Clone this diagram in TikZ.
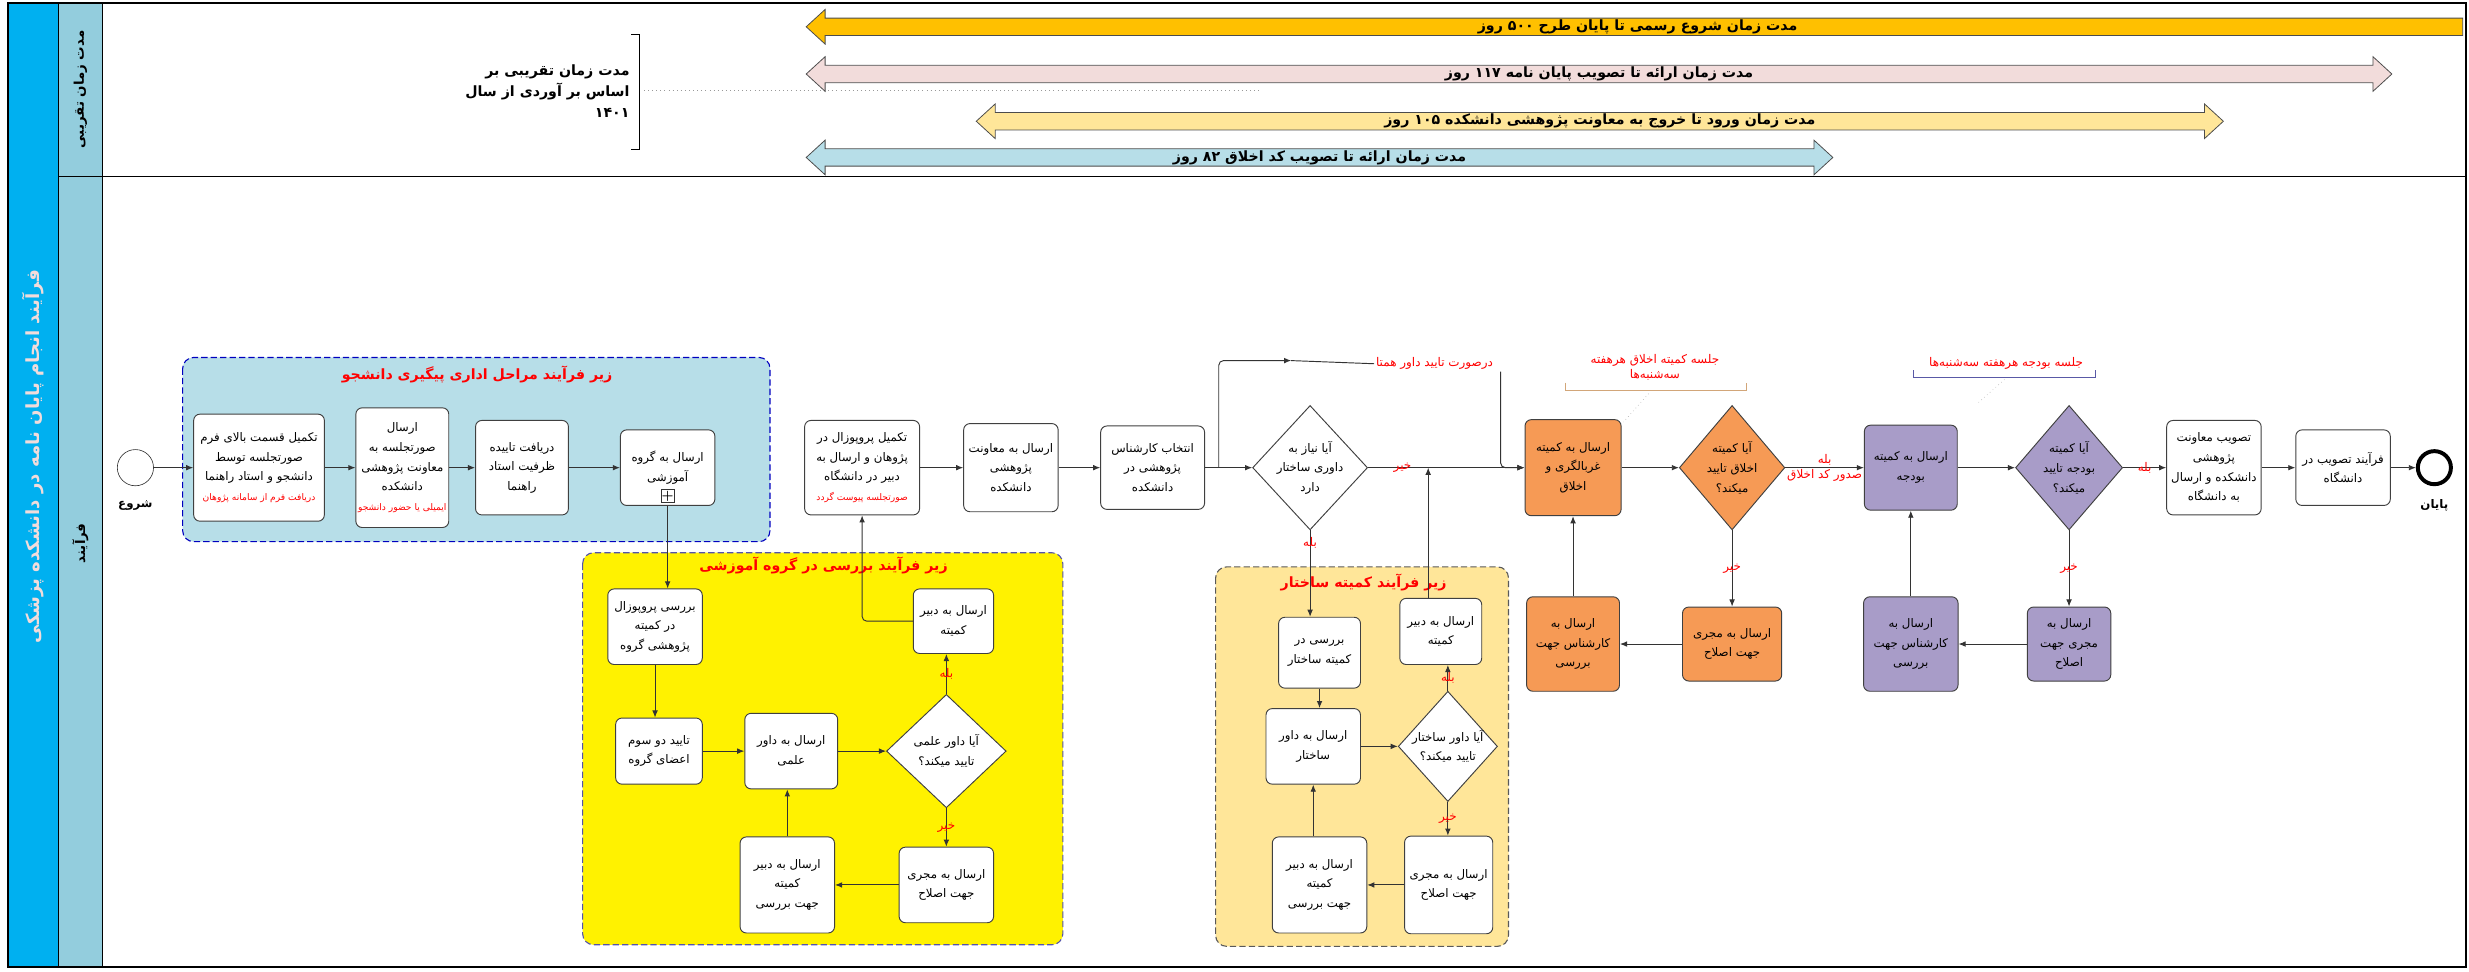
\documentclass[tikz,border=0pt]{standalone}
\usepackage{fontspec}
\usetikzlibrary{shapes.geometric,arrows.meta}
\newfontfamily\arabicfont[Script=Arabic]{DejaVu Sans}
\TeXXeTstate=1
\newcommand{\fa}[1]{\beginR#1\endR}
\newcommand{\boxfont}{\arabicfont\fontsize{7.5}{12.5}\selectfont}
\newcommand{\redline}[1]{{\color{red}\fontsize{5.8}{9}\selectfont\fa{#1}}}
\definecolor{barblue}{HTML}{00B0F0}
\definecolor{lanehead}{HTML}{93CDDD}
\definecolor{subblue}{HTML}{B7DEE8}
\definecolor{subpeach}{HTML}{FFE699}
\definecolor{ethorange}{HTML}{F69A55}
\definecolor{budpurple}{HTML}{A89CC8}
\definecolor{goldarrow}{HTML}{FFC000}
\definecolor{pinkarrow}{HTML}{F2DCDB}
\definecolor{yelarrow}{HTML}{FFE699}
\definecolor{bluarrow}{HTML}{B7DEE8}
\definecolor{titlepale}{HTML}{F2DCDB}
\begin{document}
\begin{tikzpicture}[x=1pt,y=-1pt,
  task/.style={draw=black!75,line width=0.6pt,rounded corners=4pt,fill=white,align=center,inner sep=1pt,font=\boxfont},
  decision/.style={diamond,draw=black!75,line width=0.6pt,fill=white,inner sep=0pt},
  dtext/.style={align=center,font=\boxfont},
  flow/.style={draw=black!80,line width=0.6pt,-{Latex[length=4.5pt,width=3.6pt]}},
  plain/.style={draw=black!80,line width=0.6pt},
  note/.style={text=red,font=\arabicfont\fontsize{7.6}{9.5}\selectfont,inner sep=1pt},
  subtitle/.style={text=red,font=\arabicfont\bfseries\fontsize{9}{11}\selectfont},
  subproc/.style={rounded corners=7pt,dash pattern=on 4pt off 2pt,line width=0.7pt},
  durtext/.style={font=\arabicfont\bfseries\fontsize{9}{11}\selectfont,inner sep=0pt},
  event/.style={circle,draw=black!80,fill=white,minimum size=23pt,inner sep=0pt}]
\useasboundingbox (0,0) rectangle (1568,616.7);
% lanes
\fill[barblue] (5,2) rectangle (37,614);
\fill[lanehead] (37,2) rectangle (65,614);
\draw[line width=0.6pt] (37,2) -- (37,614) (65,2) -- (65,614) (37,112) -- (1566,112);
\draw[line width=0.9pt] (5,2) rectangle (1566,614);
\node[rotate=90,text=titlepale,font=\arabicfont\bfseries\fontsize{11.5}{13}\selectfont] (title) at (21,290) {\fa{فرآیند انجام پایان نامه در دانشکده پزشکی}};
\node[rotate=90,font=\arabicfont\bfseries\fontsize{8.5}{10}\selectfont] (lanetime) at (51,57) {\fa{مدت زمان تقریبی}};
\node[rotate=90,font=\arabicfont\bfseries\fontsize{8.5}{10}\selectfont] (laneproc) at (51,345) {\fa{فرآیند}};
% durations
\node[anchor=east,align=right,inner sep=0pt,font=\arabicfont\bfseries\fontsize{9}{13.5}\selectfont] (estimate) at (400,58) {\fa{مدت زمان تقریبی بر}\\\fa{اساس بر آوردی از سال}\\\fa{۱۴۰۱}};
\draw[line width=0.6pt] (401,22) -- (406,22) -- (406,95) -- (401,95);
\draw[black!40,dotted,line width=0.6pt] (409,57.5) -- (800,57.5);
\draw[fill=goldarrow,draw=black!70,line width=0.5pt] (512,17) -- (524,6) -- (524,11.5) -- (1564,11.5) -- (1564,22.5) -- (524,22.5) -- (524,28) -- cycle;
\node[durtext] (dur1) at (1040,17) {\fa{مدت زمان شروع رسمی تا پایان طرح ۵۰۰ روز}};
\foreach \xl/\xr/\yy/\col/\n/\tx in {512/1519/47/pinkarrow/2/مدت زمان ارائه تا تصویب پایان نامه ۱۱۷ روز,
  620/1412/77/yelarrow/3/مدت زمان ورود تا خروج به معاونت پژوهشی دانشکده ۱۰۵ روز,
  512/1164/100/bluarrow/4/مدت زمان ارائه تا تصویب کد اخلاق ۸۲ روز}
{
  \draw[fill=\col,draw=black!70,line width=0.5pt] (\xl,\yy) -- ++(12,-11) -- ++(0,5.5) -- ({\xr-12},{\yy-5.5}) -- ++(0,-5.5) -- (\xr,\yy) -- ({\xr-12},{\yy+11}) -- ++(0,-5.5) -- ({\xl+12},{\yy+5.5}) -- ++(0,5.5) -- cycle;
  \node[durtext] (dur\n) at ({(\xl+\xr)/2},\yy) {\fa{\tx}};
}
% sub-processes
\draw[subproc,fill=subblue,draw=blue!75!black] (116,227) rectangle (489,344);
\draw[subproc,fill=yellow,draw=blue!35!gray] (370,351) rectangle (675,600);
\draw[subproc,fill=subpeach,draw=black!65] (772,360) rectangle (958,601);
\node[subtitle] (subadmin) at (303,238) {\fa{زیر فرآیند مراحل اداری پیگیری دانشجو}};
\node[subtitle] (subgroup) at (523,359) {\fa{زیر فرآیند بررسی در گروه آموزشی}};
\node[subtitle] (substruct) at (866,370) {\fa{زیر فرآیند کمیته ساختار}};
% main row
\node[event] (start) at (86,297) {};
\node[font=\boxfont\bfseries] (startlbl) at (86,321) {\fa{شروع}};
\node[task,minimum width=83pt,minimum height=68pt] (A) at (164.5,297) {\fa{تکمیل قسمت بالای فرم}\\\fa{صورتجلسه توسط}\\\fa{دانشجو و استاد راهنما}\\\redline{دریافت فرم از سامانه پژوهان}};
\node[task,minimum width=59pt,minimum height=76pt] (B) at (255.5,297) {\fa{ارسال}\\\fa{صورتجلسه به}\\\fa{معاونت پژوهشی}\\\fa{دانشکده}\\\redline{ایمیلی یا حضور دانشجو}};
\node[task,minimum width=59pt,minimum height=60pt] (C) at (331.5,297) {\fa{دریافت تاییده}\\\fa{ظرفیت استاد}\\\fa{راهنما}};
\node[task,minimum width=60pt,minimum height=48pt] (D) at (424,297) {\fa{ارسال به گروه}\\\fa{آموزشی}};
\node[draw=black!80,fill=white,inner sep=0pt,minimum size=8pt,font=\bfseries\fontsize{8}{8}\selectfont] (Dplus) at (424,315) {+};
\node[task,minimum width=73pt,minimum height=60pt] (E) at (547.5,297) {\fa{تکمیل پروپوزال در}\\\fa{پژوهان و ارسال به}\\\fa{دبیر در دانشگاه}\\\redline{صورتجلسه پیوست گردد}};
\node[task,minimum width=60pt,minimum height=56pt] (F) at (642,297) {\fa{ارسال به معاونت}\\\fa{پژوهشی}\\\fa{دانشکده}};
\node[task,minimum width=66pt,minimum height=53pt] (G) at (732,297) {\fa{انتخاب کارشناس}\\\fa{پژوهشی در}\\\fa{دانشکده}};
\node[decision,minimum width=73pt,minimum height=79pt,label={[dtext]center:{\beginR آیا نیاز به\endR\\\beginR داوری ساختار\endR\\\beginR دارد\endR}}] (H) at (832,297) {};
\node[task,fill=ethorange,minimum width=61pt,minimum height=61pt] (I) at (999,297) {\fa{ارسال به کمیته}\\\fa{غربالگری و}\\\fa{اخلاق}};
\node[decision,fill=ethorange,minimum width=67pt,minimum height=79pt,label={[dtext]center:{\beginR آیا کمیته\endR\\\beginR اخلاق تایید\endR\\\beginR میکند؟\endR}}] (J) at (1100,297) {};
\node[task,fill=budpurple,minimum width=59pt,minimum height=54pt] (K) at (1213.5,297) {\fa{ارسال به کمیته}\\\fa{بودجه}};
\node[decision,fill=budpurple,minimum width=68pt,minimum height=79pt,label={[dtext]center:{\beginR آیا کمیته\endR\\\beginR بودجه تایید\endR\\\beginR میکند؟\endR}}] (L) at (1314,297) {};
\node[task,minimum width=60pt,minimum height=60pt] (M) at (1406,297) {\fa{تصویب معاونت}\\\fa{پژوهشی}\\\fa{دانشکده و ارسال}\\\fa{به دانشگاه}};
\node[task,minimum width=60pt,minimum height=48pt] (N) at (1488,297) {\fa{فرآیند تصویب در}\\\fa{دانشگاه}};
\node[event,minimum size=21pt,line width=2.5pt,draw=black] (end) at (1546,297) {};
\node[font=\boxfont\bfseries] (endlbl) at (1546,321) {\fa{پایان}};
% lower right
\node[task,fill=ethorange,minimum width=59pt,minimum height=60pt] (O1) at (999,409) {\fa{ارسال به}\\\fa{کارشناس جهت}\\\fa{بررسی}};
\node[task,fill=ethorange,minimum width=63pt,minimum height=47pt] (O2) at (1100,409) {\fa{ارسال به مجری}\\\fa{جهت اصلاح}};
\node[task,fill=budpurple,minimum width=60pt,minimum height=60pt] (P1) at (1213.5,409) {\fa{ارسال به}\\\fa{کارشناس جهت}\\\fa{بررسی}};
\node[task,fill=budpurple,minimum width=53pt,minimum height=47pt] (P2) at (1314,409) {\fa{ارسال به}\\\fa{مجری جهت}\\\fa{اصلاح}};
% group review
\node[task,minimum width=60pt,minimum height=48pt] (Y1) at (416,398) {\fa{بررسی پروپوزال}\\\fa{در کمیته}\\\fa{پژوهشی گروه}};
\node[task,minimum width=55pt,minimum height=42pt] (Y2) at (418.5,477) {\fa{تایید دو سوم}\\\fa{اعضای گروه}};
\node[task,minimum width=59pt,minimum height=48pt] (Y3) at (502.5,477) {\fa{ارسال به داور}\\\fa{علمی}};
\node[decision,minimum width=76pt,minimum height=72pt,label={[dtext]center:{\beginR آیا داور علمی\endR\\\beginR تایید میکند؟\endR}}] (Y4) at (601,477) {};
\node[task,minimum width=51pt,minimum height=41pt] (Y5) at (605.5,394.5) {\fa{ارسال به دبیر}\\\fa{کمیته}};
\node[task,minimum width=60pt,minimum height=48pt] (Y6) at (601,562) {\fa{ارسال به مجری}\\\fa{جهت اصلاح}};
\node[task,minimum width=60pt,minimum height=61pt] (Y7) at (500,562) {\fa{ارسال به دبیر}\\\fa{کمیته}\\\fa{جهت بررسی}};
% structure committee
\node[task,minimum width=52pt,minimum height=45pt] (S1) at (838,414.5) {\fa{بررسی در}\\\fa{کمیته ساختار}};
\node[task,minimum width=60pt,minimum height=48pt] (S2) at (834,474) {\fa{ارسال به داور}\\\fa{ساختار}};
\node[decision,minimum width=63pt,minimum height=70pt,label={[dtext]center:{\beginR آیا داور ساختار\endR\\\beginR تایید میکند؟\endR}}] (S3) at (919.5,474) {};
\node[task,minimum width=52pt,minimum height=42pt] (S4) at (915,401) {\fa{ارسال به دبیر}\\\fa{کمیته}};
\node[task,minimum width=56pt,minimum height=62pt] (S5) at (920,562) {\fa{ارسال به مجری}\\\fa{جهت اصلاح}};
\node[task,minimum width=60pt,minimum height=61pt] (S6) at (838,562) {\fa{ارسال به دبیر}\\\fa{کمیته}\\\fa{جهت بررسی}};
% notes
\node[note,fill=white] (peer) at (911,231) {\fa{درصورت تایید داور همتا}};
\node[note,align=center] (ethnote) at (1051,233) {\fa{جلسه کمیته اخلاق هرهفته}\\\fa{سه^^^^200cشنبه^^^^200cها}};
\draw[brown!70!white,line width=0.6pt] (994,243) -- (994,248) -- (1109,248) -- (1109,243);
\draw[black!30,dotted] (1047,250) -- (1031,268);
\node[note] (budnote) at (1274,231) {\fa{جلسه بودجه هرهفته سه^^^^200cشنبه^^^^200cها}};
\draw[blue!30!gray,line width=0.6pt] (1215,235) -- (1215,239.5) -- (1331,239.5) -- (1331,235);
\draw[black!30,dotted] (1273,241) -- (1256,256);
\coordinate (peerbend) at (774,229);
\coordinate (peermid) at (820,229);
\coordinate (peerdrop) at (953,236);
% connectors
\draw[flow] (start) -- (A);
\draw[flow] (A) -- (B);
\draw[flow] (B) -- (C);
\draw[flow] (C) -- (D);
\draw[flow] (D.south) -- (D.south |- Y1.north);
\draw[flow] (Y1.south) -- (Y1.south |- Y2.north);
\draw[flow] (Y2) -- (Y3);
\draw[flow] (Y3) -- (Y4);
\draw[flow] (Y4.north) -- (Y4.north |- Y5.south) node[note,midway] {\fa{بله}};
\draw[flow] (Y4) -- (Y6) node[note,midway] {\fa{خیر}};
\draw[flow] (Y6) -- (Y7);
\draw[flow] (Y7.north) -- (Y7.north |- Y3.south);
\draw[flow,rounded corners=3pt] (Y5.west) -| (E.south);
\draw[flow] (E) -- (F);
\draw[flow] (F) -- (G);
\draw[flow] (G) -- (H);
\draw[flow,rounded corners=3pt] (G.east -| peerbend) -- (peerbend) -- (peermid);
\draw[plain] (peermid) -- (peer.west);
\draw[flow,rounded corners=3pt] (peerdrop) |- (I.west);
\draw[flow] (H) -- (I) node[note,pos=0.22] {\fa{خیر}};
\draw[flow] (H.south) -- (H.south |- S1.north) node[note,pos=0.14] {\fa{بله}};
\draw[flow] (S1.south) -- (S1.south |- S2.north);
\draw[flow] (S2) -- (S3);
\draw[flow] (S3.north) -- (S3.north |- S4.south) node[note,midway] {\fa{بله}};
\draw[flow] (S3.south) -- (S3.south |- S5.north) node[note,midway] {\fa{خیر}};
\draw[flow] (S5) -- (S6);
\draw[flow] (S2.south |- S6.north) -- (S2.south);
\draw[flow] ([xshift=-8pt]S4.north) -- ([xshift=-8pt]S4.north |- H.east);
\draw[flow] (I) -- (J);
\draw[flow] (J) -- (K) node[note,midway,above] {\fa{بله}} node[note,midway,below] {\fa{صدور کد اخلاق}};
\draw[flow] (K) -- (L);
\draw[flow] (L) -- (M) node[note,midway] {\fa{بله}};
\draw[flow] (M) -- (N);
\draw[flow] (N) -- (end);
\draw[flow] (J) -- (O2) node[note,pos=0.5] {\fa{خیر}};
\draw[flow] (O2) -- (O1);
\draw[flow] (O1) -- (I);
\draw[flow] (L) -- (P2) node[note,pos=0.5] {\fa{خیر}};
\draw[flow] (P2) -- (P1);
\draw[flow] (P1) -- (K);
\end{tikzpicture}
\end{document}
